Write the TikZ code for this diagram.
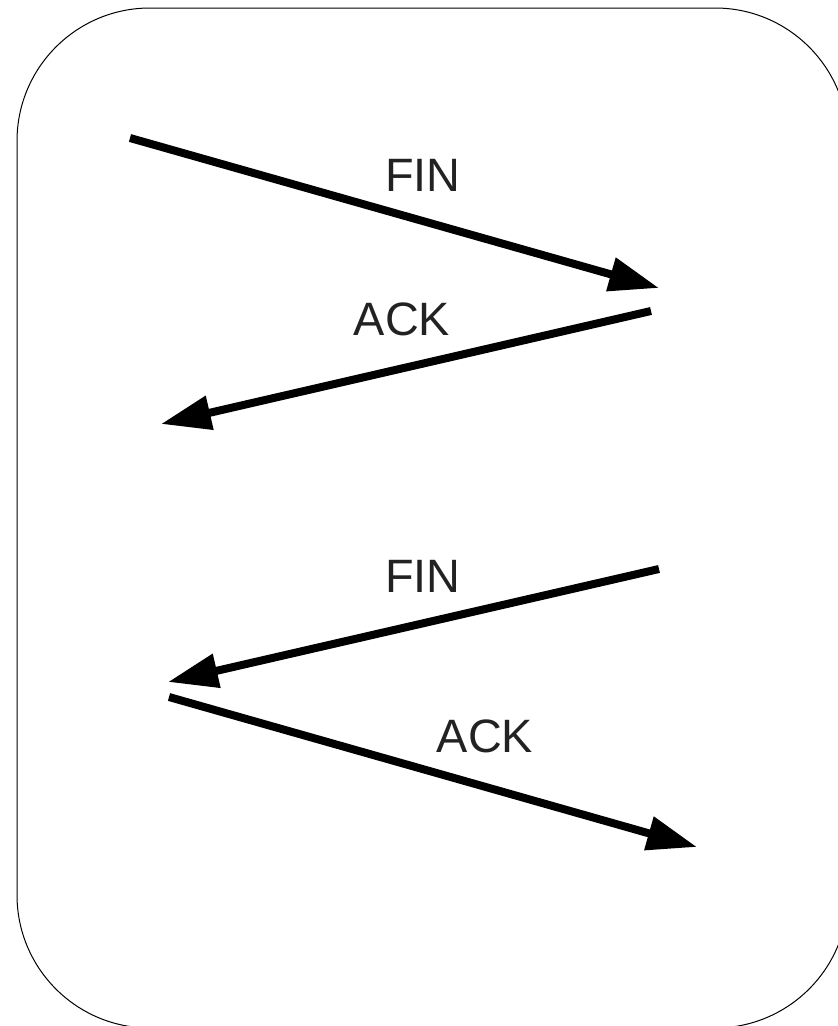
\documentclass[tikz,border=0pt]{standalone}
\usepackage{fontspec}
\setmainfont{Liberation Sans}
\usetikzlibrary{arrows.meta}
\definecolor{txt}{HTML}{222222}
\begin{document}
\begin{tikzpicture}[x=1bp,y=-1bp,
  msg/.style={line width=8bp,-{Triangle[length=50bp,width=33bp]}},
  lbl/.style={text=txt,font=\fontsize{47}{56}\selectfont,inner sep=0pt,anchor=center}]
\useasboundingbox (0,0) rectangle (838,1026);
\draw[line width=1bp,rounded corners=133bp] (17,8) rectangle (848,1028);
\coordinate (a1) at (130,138);
\coordinate (b1) at (659,288);
\coordinate (a2) at (651,311);
\coordinate (b2) at (161,424);
\coordinate (a3) at (659,569);
\coordinate (b3) at (168,682);
\coordinate (a4) at (169,697);
\coordinate (b4) at (697,847);
\draw[msg] (a1) -- (b1);
\draw[msg] (a2) -- (b2);
\draw[msg] (a3) -- (b3);
\draw[msg] (a4) -- (b4);
\node[lbl] (l1) at (423,175) {FIN};
\node[lbl] (l2) at (402,319) {ACK};
\node[lbl] (l3) at (423,576) {FIN};
\node[lbl] (l4) at (485,736) {ACK};
\end{tikzpicture}
\end{document}
